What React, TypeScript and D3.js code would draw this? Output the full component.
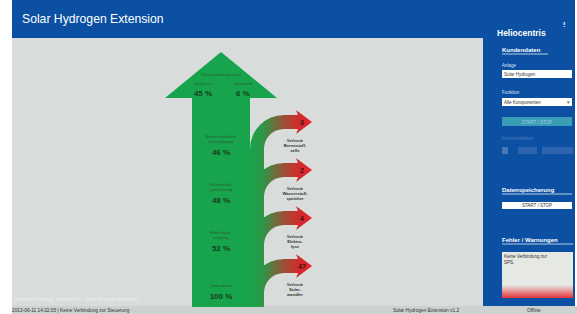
import React, { useEffect, useRef } from 'react';
import * as d3 from 'd3';

// flow values
const outputLabels = ['elektrisch', 'thermisch'];
const outputValues = [45, 6];
const stageLabels = [
  ['Brennstoffzellen-', 'wirkungsgrad'],
  ['Wasserstoff-', 'speicherung'],
  ['Elektrolyse-', 'eingang'],
  ['Solarstrom'],
];
const stageValues = [46, 48, 52, 100];
const lossValues = [3, 2, 4, 47];
const lossLabels = [
  ['Verluste', 'Brennstoff-', 'zelle'],
  ['Verluste', 'Wasserstoff-', 'speicher'],
  ['Verluste', 'Elektro-', 'lyse'],
  ['Verluste', 'Solar-', 'wandler'],
];

const W = 577;
const H = 314;
const FONT = '"Liberation Sans", Arial, sans-serif';

const BLUE = '#0b50a2';
const PANEL = '#d8dcdb';
const GREEN = '#18a44c';

function App() {
  const svgRef = useRef<SVGSVGElement>(null);

  useEffect(() => {
    const svg = d3.select(svgRef.current);
    svg.selectAll('*').remove();
    svg.attr('font-family', FONT);

    const defs = svg.append('defs');
    const grad = defs.append('linearGradient')
      .attr('id', 'lossGrad')
      .attr('gradientUnits', 'userSpaceOnUse')
      .attr('x1', 250).attr('x2', 312).attr('y1', 0).attr('y2', 0);
    grad.append('stop').attr('offset', 0).attr('stop-color', GREEN);
    grad.append('stop').attr('offset', 0.22).attr('stop-color', '#2f9446');
    grad.append('stop').attr('offset', 0.5).attr('stop-color', '#8c5a38');
    grad.append('stop').attr('offset', 0.75).attr('stop-color', '#cc2f2c');
    grad.append('stop').attr('offset', 1).attr('stop-color', '#e8202a');

    const errGrad = defs.append('linearGradient')
      .attr('id', 'errGrad').attr('x1', 0).attr('x2', 0).attr('y1', 0).attr('y2', 1);
    errGrad.append('stop').attr('offset', 0).attr('stop-color', '#e6e8e4');
    errGrad.append('stop').attr('offset', 1).attr('stop-color', '#e5343a');

    // page frame
    svg.append('rect').attr('width', W).attr('height', H).attr('fill', '#ffffff');
    svg.append('rect').attr('x', 12).attr('y', 37).attr('width', 472).attr('height', 277).attr('fill', PANEL);
    svg.append('rect').attr('x', 12).attr('y', 0).attr('width', 563).attr('height', 38).attr('fill', BLUE);
    svg.append('rect').attr('x', 483).attr('y', 36).attr('width', 92).attr('height', 270).attr('fill', BLUE);
    svg.append('rect').attr('x', 12).attr('y', 306).attr('width', 565).attr('height', 8).attr('fill', '#cdd1d0');

    svg.append('text').attr('x', 22).attr('y', 23)
      .attr('fill', '#ffffff').attr('font-size', 12.2)
      .text('Solar Hydrogen Extension');
    svg.append('text').attr('x', 497).attr('y', 36)
      .attr('fill', '#ffffff').attr('font-size', 8.5).attr('font-weight', 'bold')
      .text('Heliocentris');
    svg.append('text').attr('x', 563).attr('y', 27)
      .attr('fill', '#ffffff').attr('font-size', 7).attr('font-weight', 'bold')
      .text('⁞');

    // flow diagram
    const y = d3.scalePoint<number>()
      .domain(d3.range(lossValues.length))
      .range([122, 266]);

    const shaftL = 192, shaftR = 250, mid = (shaftL + shaftR) / 2;
    const tipY = 52, baseY = 98, headHalf = 56;
    const bottom = 307;

    const arrow = d3.path();
    arrow.moveTo(mid, tipY);
    arrow.lineTo(mid + headHalf, baseY);
    arrow.lineTo(shaftR, baseY);
    arrow.lineTo(shaftR, bottom);
    arrow.lineTo(shaftL, bottom);
    arrow.lineTo(shaftL, baseY);
    arrow.lineTo(mid - headHalf, baseY);
    arrow.closePath();
    svg.append('path').attr('d', arrow.toString()).attr('fill', GREEN);

    const cx = 284, Ro = 34, Ri = 20, half = 7, headX = 298, tipX = 312, headH = 12;
    const bandL = cx - Ro, bandR = cx - Ri;

    svg.append('rect')
      .attr('x', bandL - 0.5).attr('y', y(0)! + 27)
      .attr('width', Ro - Ri + 0.5).attr('height', bottom - (y(0)! + 27))
      .attr('fill', 'url(#lossGrad)');

    lossValues.forEach((v, i) => {
      const yc = y(i)!;
      const cy = yc + 27;
      const p = d3.path();
      p.moveTo(bandL, cy + 2);
      p.lineTo(bandL, cy);
      p.arc(cx, cy, Ro, Math.PI, 1.5 * Math.PI);
      p.lineTo(headX, yc - half);
      p.lineTo(headX - 2, yc - headH);
      p.lineTo(tipX, yc);
      p.lineTo(headX - 2, yc + headH);
      p.lineTo(headX, yc + half);
      p.lineTo(cx, yc + half);
      p.arc(cx, cy, Ri, 1.5 * Math.PI, Math.PI, true);
      p.lineTo(bandR, cy + 2);
      p.closePath();
      svg.append('path').attr('d', p.toString()).attr('fill', 'url(#lossGrad)');

      svg.append('text')
        .attr('x', 302).attr('y', yc + 2.5)
        .attr('text-anchor', 'middle')
        .attr('font-size', 7).attr('font-weight', 'bold')
        .attr('fill', '#3a140c')
        .text(v);

      lossLabels[i].forEach((s, j) => {
        svg.append('text')
          .attr('x', 295).attr('y', yc + 20 + j * 5)
          .attr('text-anchor', 'middle')
          .attr('font-size', 4.2).attr('font-weight', 'bold')
          .attr('fill', '#333333')
          .text(s);
      });
    });

    // stage values inside the shaft
    stageValues.forEach((v, i) => {
      const yc = y(i)!;
      const lines = stageLabels[i];
      lines.forEach((s, j) => {
        svg.append('text')
          .attr('x', mid).attr('y', yc + 21 - (lines.length - 1 - j) * 5)
          .attr('text-anchor', 'middle')
          .attr('font-size', 4.2)
          .attr('fill', '#2a5a38')
          .text(s);
      });
      svg.append('text')
        .attr('x', mid).attr('y', yc + 33)
        .attr('text-anchor', 'middle')
        .attr('font-size', 8).attr('font-weight', 'bold')
        .attr('fill', '#163d22')
        .text(`${v} %`);
    });

    // outputs in the arrow head
    svg.append('text')
      .attr('x', mid).attr('y', 76)
      .attr('text-anchor', 'middle')
      .attr('font-size', 4.2).attr('fill', '#2a5a38')
      .text('Gesamtwirkungsgrad');
    const outX = d3.scalePoint<number>().domain(d3.range(outputValues.length)).range([203, 243]);
    outputValues.forEach((v, i) => {
      svg.append('text')
        .attr('x', outX(i)!).attr('y', 85)
        .attr('text-anchor', 'middle')
        .attr('font-size', 4.2).attr('fill', '#2a5a38')
        .text(outputLabels[i]);
      svg.append('text')
        .attr('x', outX(i)!).attr('y', 96)
        .attr('text-anchor', 'middle')
        .attr('font-size', 8).attr('font-weight', 'bold')
        .attr('fill', '#163d22')
        .text(`${v} %`);
    });

    // sidebar
    const side = svg.append('g');
    const heading = (t: string, yy: number, w: number) => {
      side.append('text').attr('x', 502).attr('y', yy)
        .attr('fill', '#ffffff').attr('font-size', 6).attr('font-weight', 'bold').text(t);
      side.append('line').attr('x1', 502).attr('x2', 502 + w).attr('y1', yy + 2).attr('y2', yy + 2)
        .attr('stroke', '#ffffff').attr('stroke-width', 0.7);
    };
    const small = (t: string, yy: number, fill = '#dde6f2') =>
      side.append('text').attr('x', 502).attr('y', yy)
        .attr('fill', fill).attr('font-size', 4.5).text(t);

    heading('Kundendaten', 52, 46);
    small('Anlage', 67);
    side.append('rect').attr('x', 502).attr('y', 70).attr('width', 70).attr('height', 8).attr('fill', '#ffffff');
    side.append('text').attr('x', 504).attr('y', 75.8).attr('font-size', 4.5).attr('fill', '#333').text('Solar Hydrogen');
    small('Funktion', 94);
    side.append('rect').attr('x', 502).attr('y', 98).attr('width', 70).attr('height', 8).attr('fill', '#ffffff');
    side.append('text').attr('x', 504).attr('y', 103.8).attr('font-size', 4.5).attr('fill', '#333').text('Alle Komponenten');
    side.append('text').attr('x', 567).attr('y', 104).attr('font-size', 5).attr('fill', '#555').text('▾');
    side.append('rect').attr('x', 502).attr('y', 117).attr('width', 70).attr('height', 9).attr('fill', '#3b9cb6');
    side.append('text').attr('x', 537).attr('y', 123.5).attr('text-anchor', 'middle')
      .attr('font-size', 4.5).attr('fill', '#9fd2e0').text('START / STOP');
    small('Kommunikation', 140, '#4f7dba');
    side.append('rect').attr('x', 502).attr('y', 147).attr('width', 6).attr('height', 7).attr('fill', '#4a78b6');
    side.append('rect').attr('x', 518).attr('y', 147).attr('width', 19).attr('height', 7).attr('fill', '#2e64ad');
    side.append('rect').attr('x', 542).attr('y', 147).attr('width', 31).attr('height', 7).attr('fill', '#2e64ad');

    heading('Datenspeicherung', 192, 70);
    side.append('rect').attr('x', 502).attr('y', 202).attr('width', 70).attr('height', 7).attr('fill', '#ffffff');
    side.append('text').attr('x', 537).attr('y', 207.3).attr('text-anchor', 'middle')
      .attr('font-size', 4.5).attr('fill', '#333').text('START / STOP');

    heading('Fehler / Warnungen', 242, 71);
    side.append('rect').attr('x', 502).attr('y', 252).attr('width', 71).attr('height', 46).attr('fill', '#e6e8e4');
    side.append('rect').attr('x', 502).attr('y', 285).attr('width', 71).attr('height', 13).attr('fill', 'url(#errGrad)');
    side.append('text').attr('x', 504).attr('y', 258).attr('font-size', 4.5).attr('fill', '#333').text('Keine Verbindung zur');
    side.append('text').attr('x', 504).attr('y', 264).attr('font-size', 4.5).attr('fill', '#333').text('SPS.');

    // status line
    svg.append('text').attr('x', 15).attr('y', 301).attr('font-size', 4.5).attr('fill', '#eef1f1')
      .text('Heliocentris Energy Solutions AG · Solar Hydrogen Extension');
    svg.append('text').attr('x', 12).attr('y', 312).attr('font-size', 4.8).attr('fill', '#333')
      .text('2013-06-11 14:22:05  |  Keine Verbindung zur Steuerung');
    svg.append('text').attr('x', 393).attr('y', 312).attr('font-size', 4.8).attr('fill', '#333')
      .text('Solar Hydrogen Extension v1.2');
    svg.append('text').attr('x', 527).attr('y', 312).attr('font-size', 4.8).attr('fill', '#333')
      .text('Offline');
  }, []);

  return (
    <svg ref={svgRef} width={W} height={H}
      style={{ position: 'absolute', left: 0, top: 0, display: 'block' }} />
  );
}

export default App;
